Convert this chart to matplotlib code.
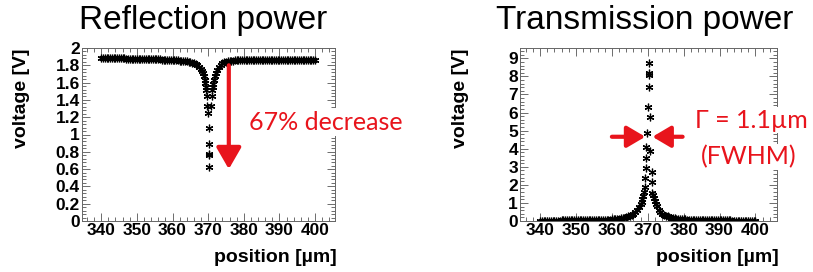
import numpy as np
import matplotlib
matplotlib.use("Agg")
import matplotlib.pyplot as plt
from matplotlib.ticker import MultipleLocator
from matplotlib.font_manager import FontProperties

# ---------------- data ----------------
# Reflection scan: regular grid part
refl_x = [340.0, 340.5, 341.0, 341.5, 342.0, 342.5, 343.0, 343.5, 344.0, 344.5,
          345.0, 345.5, 346.0, 346.5, 347.0, 347.5, 348.0, 348.5, 349.0, 349.5,
          350.0, 350.5, 351.0, 351.5, 352.0, 352.5, 353.0, 353.5, 354.0, 354.5,
          355.0, 355.5, 356.0, 356.5, 357.0, 357.5, 358.0, 358.5, 359.0, 359.5,
          360.0, 360.5, 361.0, 361.5, 362.0, 362.5, 363.0, 363.5, 364.0, 364.5,
          365.0, 365.5, 366.0, 366.5, 367.0, 367.5, 368.0, 368.25, 368.5, 368.75,
          369.0, 369.25,
          371.5, 371.75, 372.0, 372.25, 372.5, 373.0, 373.5, 374.0, 374.5, 375.0,
          375.5, 376.0, 376.5, 377.0, 377.5, 378.0, 378.5, 379.0, 379.5, 380.0,
          380.5, 381.0, 381.5, 382.0, 382.5, 383.0, 383.5, 384.0, 384.5, 385.0,
          385.5, 386.0, 386.5, 387.0, 387.5, 388.0, 388.5, 389.0, 389.5, 390.0,
          390.5, 391.0, 391.5, 392.0, 392.5, 393.0, 393.5, 394.0, 394.5, 395.0,
          395.5, 396.0, 396.5, 397.0, 397.5, 398.0, 398.5, 399.0, 399.5, 400.0]
refl_v = [1.885, 1.885, 1.884, 1.884, 1.883, 1.883, 1.882, 1.882, 1.881, 1.881,
          1.880, 1.880, 1.879, 1.879, 1.878, 1.878, 1.877, 1.877, 1.876, 1.876,
          1.875, 1.875, 1.874, 1.874, 1.873, 1.873, 1.872, 1.872, 1.871, 1.871,
          1.870, 1.870, 1.869, 1.868, 1.867, 1.866, 1.865, 1.864, 1.863, 1.862,
          1.861, 1.860, 1.859, 1.857, 1.855, 1.853, 1.851, 1.849, 1.846, 1.843,
          1.838, 1.832, 1.824, 1.814, 1.800, 1.782, 1.755, 1.735, 1.710, 1.675,
          1.635, 1.590,
          1.580, 1.630, 1.675, 1.710, 1.740, 1.780, 1.805, 1.822, 1.833, 1.840,
          1.845, 1.849, 1.852, 1.854, 1.856, 1.857, 1.858, 1.859, 1.860, 1.860,
          1.861, 1.861, 1.861, 1.862, 1.862, 1.862, 1.862, 1.862, 1.862, 1.862,
          1.862, 1.862, 1.862, 1.862, 1.862, 1.862, 1.862, 1.862, 1.862, 1.861,
          1.861, 1.861, 1.861, 1.861, 1.861, 1.861, 1.861, 1.860, 1.860, 1.860,
          1.860, 1.860, 1.860, 1.860, 1.860, 1.860, 1.860, 1.860, 1.860, 1.860]
# Reflection: sparse points in the dip
refl_dip_x = [369.4, 369.5, 369.6, 369.75, 369.9, 370.1, 370.2, 370.3, 370.35,
              370.3, 370.7, 371.0, 371.1, 371.3]
refl_dip_v = [1.545, 1.51, 1.445, 1.33, 1.25, 1.08, 0.89, 0.775, 0.76,
              0.63, 1.33, 1.45, 1.52, 1.55]

# Transmission scan: regular grid part
trans_x = [340.0, 340.5, 341.0, 341.5, 342.0, 342.5, 343.0, 343.5, 344.0, 344.5,
           345.0, 345.5, 346.0, 346.5, 347.0, 347.5, 348.0, 348.5, 349.0, 349.5,
           350.0, 350.5, 351.0, 351.5, 352.0, 352.5, 353.0, 353.5, 354.0, 354.5,
           355.0, 355.5, 356.0, 356.5, 357.0, 357.5, 358.0, 358.5, 359.0, 359.5,
           360.0, 360.5, 361.0, 361.5, 362.0, 362.5, 363.0, 363.5, 364.0, 364.5,
           365.0, 365.5, 366.0, 366.5, 367.0, 367.5, 368.0, 368.25, 368.5, 368.75,
           369.0,
           371.5, 371.75, 372.0, 372.25, 372.5, 373.0, 373.5, 374.0, 374.5, 375.0,
           375.5, 376.0, 376.5, 377.0, 377.5, 378.0, 378.5, 379.0, 379.5, 380.0,
           380.5, 381.0, 381.5, 382.0, 382.5, 383.0, 383.5, 384.0, 384.5, 385.0,
           385.5, 386.0, 386.5, 387.0, 387.5, 388.0, 388.5, 389.0, 389.5, 390.0,
           390.5, 391.0, 391.5, 392.0, 392.5, 393.0, 393.5, 394.0, 394.5, 395.0,
           395.5, 396.0, 396.5, 397.0, 397.5, 398.0, 398.5, 399.0, 399.5, 400.0]
trans_v = [0.02, 0.02, 0.02, 0.02, 0.02, 0.02, 0.02, 0.02, 0.02, 0.02,
           0.02, 0.02, 0.03, 0.03, 0.03, 0.03, 0.03, 0.03, 0.03, 0.03,
           0.03, 0.03, 0.03, 0.03, 0.04, 0.04, 0.04, 0.04, 0.04, 0.05,
           0.05, 0.05, 0.05, 0.06, 0.06, 0.06, 0.07, 0.07, 0.08, 0.08,
           0.09, 0.10, 0.11, 0.12, 0.13, 0.15, 0.17, 0.19, 0.22, 0.25,
           0.29, 0.34, 0.40, 0.48, 0.60, 0.75, 0.95, 1.07, 1.20, 1.40,
           1.60,
           1.45, 1.25, 1.08, 0.94, 0.82, 0.62, 0.50, 0.40, 0.34, 0.29,
           0.25, 0.21, 0.18, 0.16, 0.14, 0.13, 0.12, 0.11, 0.10, 0.09,
           0.09, 0.08, 0.08, 0.07, 0.07, 0.06, 0.06, 0.06, 0.05, 0.05,
           0.05, 0.05, 0.04, 0.04, 0.04, 0.04, 0.04, 0.03, 0.03, 0.03,
           0.03, 0.03, 0.03, 0.03, 0.03, 0.03, 0.02, 0.02, 0.02, 0.02,
           0.02, 0.02, 0.02, 0.02, 0.02, 0.02, 0.02, 0.02, 0.02, 0.02]
# Transmission: sparse points at the peak
trans_pk_x = [369.2, 369.2, 369.4, 369.4, 369.6, 369.8, 370.0, 370.2, 370.3,
              370.2, 370.3, 370.6, 370.6, 371.2, 371.2, 371.2]
trans_pk_v = [1.86, 2.36, 2.91, 3.47, 4.11, 4.88, 6.29, 7.39, 8.07,
              8.2, 8.72, 5.77, 3.89, 2.73, 2.17, 1.57]

titles = ["Reflection power", "Transmission power"]
xlabel = "position [\u00b5m]"
ylabel = "voltage [V]"
x_ticks = [340, 350, 360, 370, 380, 390, 400]
refl_yticks = [0, 0.2, 0.4, 0.6, 0.8, 1, 1.2, 1.4, 1.6, 1.8, 2]
trans_yticks = [0, 1, 2, 3, 4, 5, 6, 7, 8, 9]
refl_note = "67% decrease"
trans_note1 = "\u0393 = 1.1\u00b5m"
trans_note2 = "(FWHM)"
refl_arrow = (375.8, 1.80, 0.60)          # x, start y, end y
fwhm_left = (360.0, 369.3, 4.66)          # start x, tip x, y
fwhm_right = (379.7, 371.3, 4.66)

# ---------------- figure ----------------
W, H = 813, 272
fig = plt.figure(figsize=(W / 100, H / 100), dpi=100)

def px_axes(l, t, r, b):
    return fig.add_axes([l / W, 1 - b / H, (r - l) / W, (b - t) / H])

ax1 = px_axes(82, 48, 335, 221)
ax2 = px_axes(520, 48, 777, 221)

tick_font = dict(family="Liberation Sans", weight="bold", size=12.5)
red = "#e8141c"

def fmt(v):
    return ("%g" % v)

def style(ax, ymaj, ymin, yticks):
    ax.set_xticks(x_ticks)
    ax.set_xticklabels([fmt(v) for v in x_ticks], **tick_font)
    ax.set_yticks(yticks)
    ax.set_yticklabels([fmt(v) for v in yticks], **tick_font)
    ax.xaxis.set_minor_locator(MultipleLocator(2))
    ax.yaxis.set_minor_locator(MultipleLocator(ymin))
    ax.tick_params(which="both", direction="in", top=True, right=True,
                   color="#555555", width=0.6, pad=1.5)
    ax.tick_params(which="major", length=6)
    ax.tick_params(which="minor", length=3)
    for s in ax.spines.values():
        s.set_color("#666666")
        s.set_linewidth(0.7)

asterisk = (6, 2, 0)
mk = dict(ls="none", marker=asterisk, color="black", ms=5.5, mew=0.9)

ax1.plot(refl_x, refl_v, **mk)
ax1.plot(refl_dip_x, refl_dip_v, **mk)
ax1.set_xlim(334.6, 405.6)
ax1.set_ylim(0, 2)
style(ax1, 0.2, 0.04, refl_yticks)

ax2.plot(trans_x, trans_v, **mk)
ax2.plot(trans_pk_x, trans_pk_v, **mk)
ax2.set_xlim(334.4, 406.0)
ax2.set_ylim(0, 9.57)
style(ax2, 1, 0.2, trans_yticks)

lab_font = dict(family="Liberation Sans", weight="bold", size=14)
for ax, yx in ((ax1, 22), (ax2, 460)):
    bb = ax.get_position()
    fig.text(bb.x1 + 2 / W, 1 - 257 / H, xlabel, ha="right", va="center", **lab_font)
    fig.text(yx / W, bb.y1, ylabel, ha="center", va="top", rotation=90, **lab_font)

title_font = dict(family="Liberation Sans", size=24)
fig.text(203 / W, 1 - 21 / H, titles[0], ha="center", va="center", **title_font)
fig.text(645 / W, 1 - 21 / H, titles[1], ha="center", va="center", **title_font)

# reflection annotation
ax1.annotate("", xy=(refl_arrow[0], refl_arrow[2]), xytext=(refl_arrow[0], refl_arrow[1]),
             arrowprops=dict(arrowstyle="-|>,head_length=1.3,head_width=0.75",
                             color=red, lw=3, shrinkA=0, shrinkB=0))
fig.text(326 / W, 1 - 122 / H, refl_note, ha="center", va="center", color=red,
         family="Lato", size=18,
         bbox=dict(facecolor="white", edgecolor="none", pad=2))

# transmission annotations
for (x0, x1, y) in (fwhm_left, fwhm_right):
    ax2.annotate("", xy=(x1, y), xytext=(x0, y),
                 arrowprops=dict(arrowstyle="-|>,head_length=1.1,head_width=0.65",
                                 color=red, lw=3, shrinkA=0, shrinkB=0))
fig.text(751 / W, 1 - 120 / H, trans_note1, ha="center", va="center", color=red,
         family="Lato", size=18,
         bbox=dict(facecolor="white", edgecolor="none", pad=1))
fig.text(749 / W, 1 - 157 / H, trans_note2, ha="center", va="center", color=red,
         family="Lato", size=18,
         bbox=dict(facecolor="white", edgecolor="none", pad=1))

fig.savefig("out.png", dpi=100, facecolor="white")
